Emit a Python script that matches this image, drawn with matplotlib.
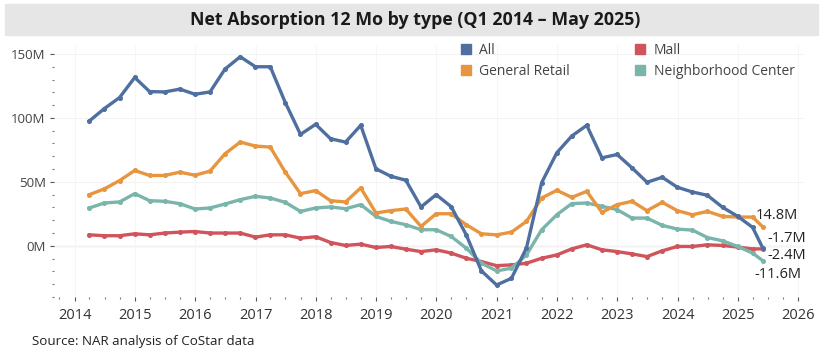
import numpy as np
import pandas as pd
import matplotlib.pyplot as plt
import matplotlib.dates as mdates
from matplotlib.lines import Line2D
from matplotlib.patches import Rectangle
from matplotlib.ticker import MultipleLocator, FuncFormatter

# quarter ends Q1 2014 .. Q1 2025, then May 2025
dates = list(pd.date_range('2014-03-31', '2025-03-31', freq='QE')) + [pd.Timestamp('2025-05-31')]

all_types = [97.6, 107.3, 115.9, 131.6, 120.6, 120.3, 122.5, 118.5, 120.3, 138.2, 147.8,
             140.0, 140.0, 112.0, 87.1, 95.0, 83.7, 81.1, 94.2, 60.2, 54.4, 51.3, 30.4,
             40.0, 30.6, 8.6, -19.6, -30.6, -25.4, -1.6, 49.4, 72.8, 85.8, 94.2, 68.8,
             71.4, 61.0, 49.7, 53.6, 45.8, 42.1, 39.5, 30.1, 23.0, 14.4, -1.7]
general_retail = [40.0, 44.5, 51.0, 58.9, 55.0, 55.0, 57.6, 55.2, 58.4, 72.0, 81.1,
                  78.0, 77.2, 57.6, 40.8, 43.2, 35.3, 34.3, 45.3, 25.7, 27.5, 28.8, 15.2,
                  25.1, 25.1, 16.5, 9.4, 8.6, 10.7, 19.1, 37.4, 43.4, 37.9, 42.6, 26.2,
                  32.2, 34.8, 27.5, 34.0, 27.5, 24.3, 26.9, 23.0, 22.5, 22.5, 14.8]
mall = [8.6, 7.9, 7.9, 9.4, 8.6, 10.0, 10.7, 11.2, 10.0, 10.0, 10.0,
        6.8, 8.6, 8.6, 6.0, 7.1, 2.6, 0.3, 1.3, -1.3, -0.5, -2.6, -4.5,
        -3.1, -5.7, -9.7, -12.3, -15.5, -14.9, -13.6, -9.7, -7.1, -2.4, 0.8, -3.1,
        -4.5, -6.3, -8.4, -3.9, -0.5, -0.5, 0.8, 0.3, -1.0, -2.4, -2.4]
neighborhood = [29.6, 33.5, 34.3, 40.8, 35.3, 34.8, 33.0, 28.8, 29.6, 32.7, 36.1,
                38.7, 37.4, 34.0, 26.9, 29.6, 30.4, 29.0, 32.2, 23.0, 19.1, 16.5, 12.6,
                12.6, 7.3, -1.8, -13.6, -19.6, -17.5, -7.1, 12.6, 24.3, 33.0, 33.5, 30.9,
                28.3, 21.7, 21.7, 16.0, 13.1, 12.3, 6.5, 3.9, -0.5, -5.7, -11.6]

series = [('All', all_types, '#4e6f9f'),
          ('Mall', mall, '#d0545b'),
          ('General Retail', general_retail, '#e8953f'),
          ('Neighborhood Center', neighborhood, '#7ab5ab')]
end_labels = ['-1.7M', '-2.4M', '14.8M', '-11.6M']
end_offsets = [(24, 10), (24, -7), (14, 11), (15, -14)]

fig = plt.figure(figsize=(8.26, 3.58), dpi=100)
ax = fig.add_axes([54 / 826, 61 / 358, 750 / 826, 252 / 358])

fig.patches.append(Rectangle((5 / 826, 1 - 35 / 358), 813 / 826, 31 / 358,
                             transform=fig.transFigure, color='#e6e6e6', zorder=0))
fig.text(415 / 826, 1 - 20 / 358, 'Net Absorption 12 Mo by type (Q1 2014 \u2013 May 2025)',
         ha='center', va='center', fontsize=12.8, fontweight='bold',
         family='Open Sans', color='#1a1a1a')

for i in [1, 3, 2, 0]:
    name, vals, col = series[i]
    ax.plot(dates, vals, color=col, lw=2.4, marker='o', ms=2.6, zorder=3)

for (name, vals, col), lab, off in zip(series, end_labels, end_offsets):
    ax.annotate(lab, (dates[-1], vals[-1]), xytext=off, textcoords='offset pixels',
                ha='center', va='center', fontsize=10.5, family='Open Sans', color='#222222')

ax.axhline(0, color='#e2e2e2', lw=1, zorder=1)
ax.set_ylim(-40, 157)
ax.set_xlim(pd.Timestamp('2013-08-29'), pd.Timestamp('2026-02-05'))
ax.yaxis.set_major_locator(MultipleLocator(50))
ax.yaxis.set_minor_locator(MultipleLocator(10))
ax.yaxis.set_major_formatter(FuncFormatter(lambda v, p: f'{v:.0f}M'))
ax.xaxis.set_major_locator(mdates.YearLocator())
ax.xaxis.set_minor_locator(mdates.MonthLocator(bymonth=[4, 7, 10]))
ax.xaxis.set_major_formatter(mdates.DateFormatter('%Y'))
ax.grid(axis='y', which='major', color='#f3f3f3', lw=0.8, zorder=0)
ax.grid(axis='x', which='major', color='#f6f6f6', lw=0.8, zorder=0)

for s in ax.spines.values():
    s.set_visible(False)
ax.tick_params(axis='both', which='major', length=3, width=0.8, color='#555555',
               labelcolor='#444444', pad=3)
ax.tick_params(axis='both', which='minor', length=1.2, width=0.8, color='#777777')
ax.tick_params(axis='y', labelsize=9.5)
ax.tick_params(axis='x', labelsize=10.5, pad=5, labelcolor='#333333')
for t in ax.get_xticklabels() + ax.get_yticklabels():
    t.set_family('Open Sans')

handles = [Line2D([], [], ls='none', marker='s', ms=7, color=series[i][2]) for i in [0, 2, 1, 3]]
labels = [series[i][0] for i in [0, 2, 1, 3]]
fig.legend(handles, labels, ncol=2, loc='upper left', bbox_to_anchor=(460 / 826, 1 - 43 / 358),
           frameon=False, labelcolor='#444444', handlelength=0.8,
           handletextpad=0.55, columnspacing=4.7, labelspacing=0.45,
           borderpad=0, borderaxespad=0, prop={'family': 'Open Sans', 'size': 10})

fig.text(32 / 826, 1 - 341 / 358, 'Source: NAR analysis of CoStar data', ha='left', va='center',
         fontsize=9.6, family='Open Sans', color='#222222')

fig.savefig('out.png', dpi=100)
